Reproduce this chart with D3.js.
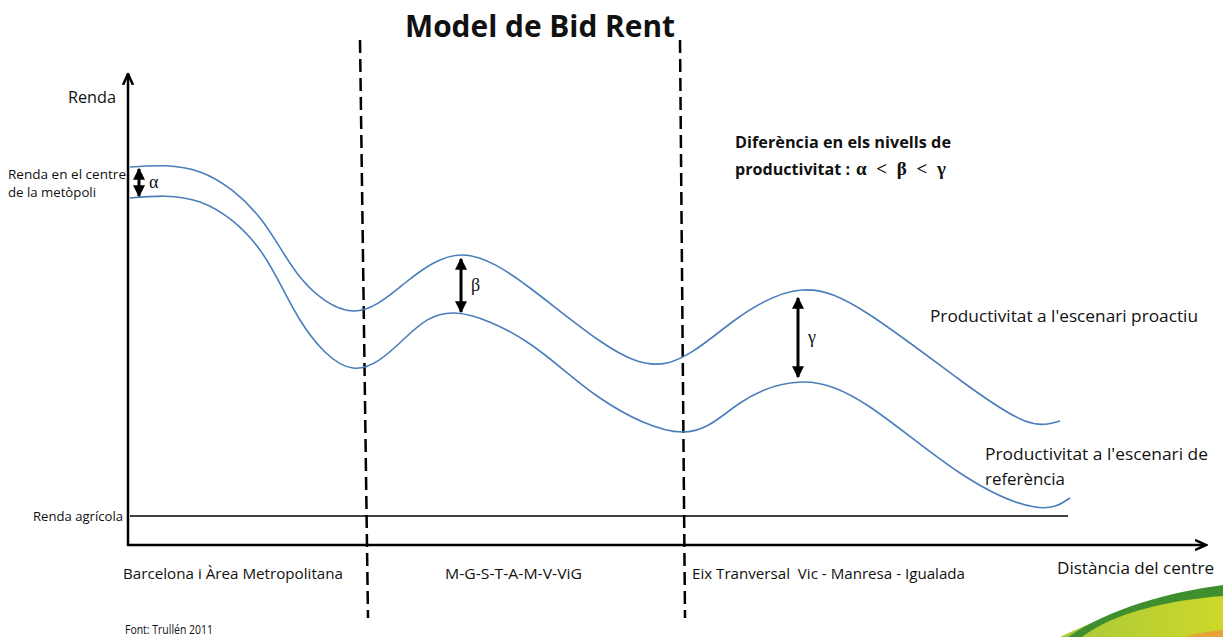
<!DOCTYPE html>
<html><head><meta charset="utf-8">
<script src="https://cdn.jsdelivr.net/npm/d3@7"></script>
<style>body{margin:0;background:#fff}svg{display:block}text{font-family:"Open Sans",Lato,sans-serif;fill:#111}</style>
</head><body><svg id="c" width="1223" height="637"></svg>
<script>
// Data (distance from centre, rent)
const proactiuDist = [2,72,132,172,225,277,335,402,472,539,607,674,742,832,897,932];
const proactiuRent = [378,373,327,268,234,262,290,257,204,182,225,255,230,165,124,124];
const referenciaDist = [2,72,132,172,225,277,327,402,472,555,612,674,742,832,907,942];
const referenciaRent = [347,343,295,225,177,207,232,201,147,113,142,163,138,72,38,47];
const rendaAgricola = 29;
const agricolaRange = [2, 940];
const zoneBounds = [232, 552];
const zoneLabels = ["Barcelona i Àrea Metropolitana", "M-G-S-T-A-M-V-ViG", "Eix Tranversal  Vic - Manresa - Igualada"];
const gaps = [{dist:11, top:377, bottom:348, label:"α"}, {dist:333, top:287, bottom:232, label:"β"}, {dist:670, top:248, bottom:167, label:"γ"}];

const svg = d3.select("#c");
const x = d3.scaleLinear().domain([0, 1077]).range([128, 1205]);
const y = d3.scaleLinear().domain([0, 470]).range([545, 75]);

const defs = svg.append("defs");
defs.append("marker").attr("id","ah").attr("viewBox","0 0 10 10").attr("refX",9).attr("refY",5)
  .attr("markerWidth",4).attr("markerHeight",4).attr("orient","auto-start-reverse").attr("markerUnits","strokeWidth")
  .append("path").attr("d","M0,0 L10,5 L0,10 z").attr("fill","#000");
defs.append("marker").attr("id","axh").attr("viewBox","0 0 10 10").attr("refX",8).attr("refY",5)
  .attr("markerWidth",5).attr("markerHeight",5).attr("orient","auto").attr("markerUnits","strokeWidth")
  .append("path").attr("d","M0,1 L9,5 L0,9").attr("fill","none").attr("stroke","#000").attr("stroke-width",2);

// decorative swoosh
const g1 = defs.append("linearGradient").attr("id","gy").attr("x1","0").attr("x2","1").attr("y1","0").attr("y2","0");
g1.append("stop").attr("offset","0").attr("stop-color","#a8c83a");
g1.append("stop").attr("offset","1").attr("stop-color","#cdd82a");
svg.append("path").attr("d","M1060,637 C1110,612 1170,598 1223,595 L1223,637 Z").attr("fill","url(#gy)");
svg.append("path").attr("d","M1068,637 C1110,608 1170,592 1223,585 L1223,596 C1170,600 1115,612 1082,637 Z").attr("fill","#3f8f2f");
svg.append("path").attr("d","M1185,637 C1198,633 1210,631 1223,630 L1223,637 Z").attr("fill","#e8a23a");

// agricultural rent line
svg.append("line").attr("x1",x(agricolaRange[0])).attr("x2",x(agricolaRange[1]))
  .attr("y1",y(rendaAgricola)).attr("y2",y(rendaAgricola)).attr("stroke","#000").attr("stroke-width",1.5);

// dashed zone boundaries
zoneBounds.forEach((b,i)=>{
  svg.append("line").attr("x1",x(b)).attr("x2",x(b)+(i===0?8:5)).attr("y1",40).attr("y2",618)
    .attr("stroke","#000").attr("stroke-width",2.5).attr("stroke-dasharray","13,6");
});

// axes
svg.append("line").attr("x1",x(0)).attr("y1",y(0)+1).attr("x2",x(0)).attr("y2",y(470)).attr("stroke","#000").attr("stroke-width",2.5).attr("marker-end","url(#axh)");
svg.append("line").attr("x1",x(0)-1).attr("y1",y(0)).attr("x2",x(1077)).attr("y2",y(0)).attr("stroke","#000").attr("stroke-width",2.5).attr("marker-end","url(#axh)");

// curves
const line = d3.line().x(d=>x(d[0])).y(d=>y(d[1])).curve(d3.curveNatural);
svg.append("path").attr("d", line(d3.zip(proactiuDist, proactiuRent))).attr("fill","none").attr("stroke","#4a7ebb").attr("stroke-width",1.6);
svg.append("path").attr("d", line(d3.zip(referenciaDist, referenciaRent))).attr("fill","none").attr("stroke","#4a7ebb").attr("stroke-width",1.6);

// gap arrows
gaps.forEach(g=>{
  svg.append("line").attr("x1",x(g.dist)).attr("x2",x(g.dist)).attr("y1",y(g.top)+1).attr("y2",y(g.bottom)-1)
    .attr("stroke","#000").attr("stroke-width",3).attr("marker-start","url(#ah)").attr("marker-end","url(#ah)");
  svg.append("text").attr("x",x(g.dist)+10).attr("y",(y(g.top)+y(g.bottom))/2+5)
    .style("font-family","'Liberation Serif','DejaVu Serif',serif").style("font-size","18px").text(g.label);
});

// texts
const T = (tx,ty,s,size,len,weight,anchor)=>{
  const t = svg.append("text").attr("x",tx).attr("y",ty).attr("text-anchor",anchor||"start")
    .style("font-size",size+"px").style("font-weight",weight||"normal").style("white-space","pre").text(s);
  if (len) t.attr("textLength",len).attr("lengthAdjust","spacingAndGlyphs");
  return t;
};
T(540,37,"Model de Bid Rent",31,270,"bold","middle");
T(68,103,"Renda",17,48);
T(8,179,"Renda en el centre",13.5,118);
T(8,197,"de la metòpoli",13.5,88);
T(33,521,"Renda agrícola",13.5,90);
T(735,148,"Diferència en els nivells de",15.5,216,"bold");
T(735,175,"productivitat :",15.5,115,"bold");
svg.append("text").attr("x",856).attr("y",175).style("font-family","'Liberation Serif',serif")
  .style("font-size","19px").style("font-weight","bold").style("white-space","pre").attr("textLength",90).attr("lengthAdjust","spacing").text("α < β < γ");
T(930,322,"Productivitat a l'escenari proactiu",16.5,268);
T(985,460,"Productivitat a l'escenari de",16.5,223);
T(985,485,"referència",16.5,80);
T(1057,574,"Distància del centre",16.5,157);
T(123,579,zoneLabels[0],14.5,220);
T(445,579,zoneLabels[1],14,137);
T(692,579,zoneLabels[2],14.5,273);
T(125,634,"Font: Trullén 2011",12,88);
</script></body></html>
